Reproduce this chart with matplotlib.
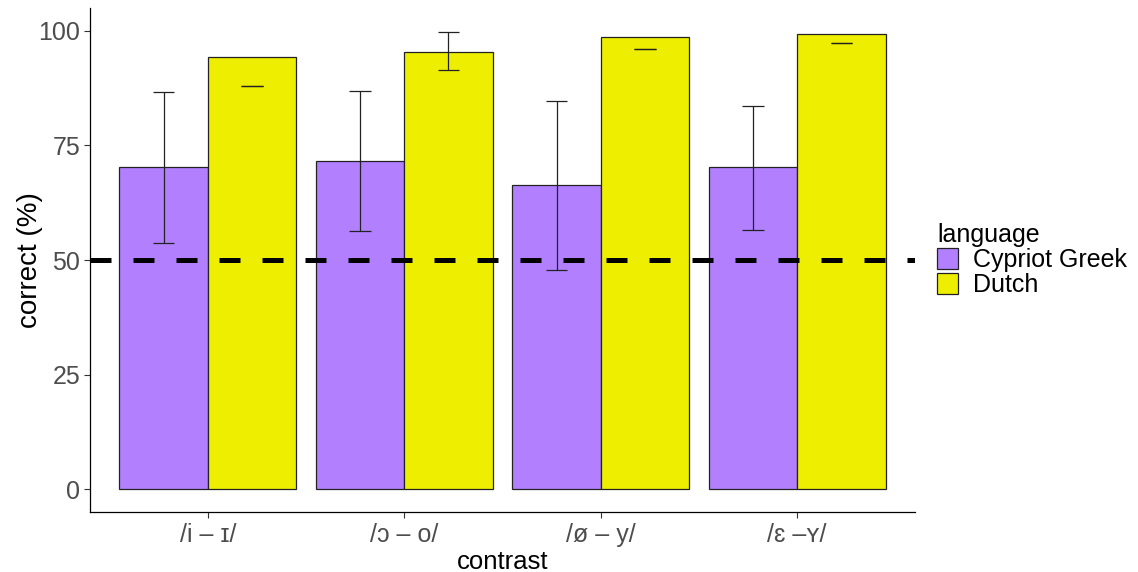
import matplotlib.pyplot as plt
import numpy as np

plt.rcParams['font.family'] = ['Liberation Sans', 'DejaVu Sans']

# values
contrasts = ["/i – ɪ/", "/ɔ – o/", "/ø – y/", "/ɛ –ʏ/"]
languages = ["Cypriot Greek", "Dutch"]
greek_mean = [70.2, 71.5, 66.3, 70.2]
greek_lo = [53.7, 56.4, 47.9, 56.6]
greek_hi = [86.6, 86.9, 84.7, 83.7]
dutch_mean = [94.2, 95.5, 98.6, 99.3]
dutch_lo = [88.0, 91.4, 96.0, 97.3]
dutch_hi = [88.0, 99.8, 96.0, 97.3]
chance = 50

colors = ["#B280FF", "#EEEE00"]

fig = plt.figure(figsize=(11.38, 5.72), dpi=100)
ax = fig.add_axes([90 / 1138, 60 / 572, 825 / 1138, 504 / 572])

x = np.arange(len(contrasts))
w = 0.45
cap = 0.055
series = [(greek_mean, greek_lo, greek_hi), (dutch_mean, dutch_lo, dutch_hi)]
for i, (mean, lo, hi) in enumerate(series):
    pos = x + (i - 0.5) * w
    ax.bar(pos, mean, width=w, color=colors[i], edgecolor="#222222",
           linewidth=0.9, label=languages[i], zorder=2)
    # error bars (some are collapsed to a single whisker in the source)
    ax.vlines(pos, lo, hi, color="#222222", linewidth=0.9, zorder=3)
    ax.hlines(lo, pos - cap, pos + cap, color="#222222", linewidth=0.9, zorder=3)
    ax.hlines(hi, pos - cap, pos + cap, color="#222222", linewidth=0.9, zorder=3)

# chance level
ax.axhline(chance, color="black", linewidth=3.6, dashes=(4.2, 4.4), zorder=4)

ax.set_xlim(-0.6, len(contrasts) - 0.4)
ax.set_ylim(-5, 105)
ax.set_yticks([0, 25, 50, 75, 100])
ax.set_xticks(x)
ax.set_xticklabels(contrasts)
ax.tick_params(axis="both", colors="#333333", labelcolor="#4D4D4D",
               labelsize=18, length=4, width=0.8)
ax.tick_params(axis="x", pad=4)
ax.tick_params(axis="y", pad=3)
ax.spines[["top", "right"]].set_visible(False)
for s in ["left", "bottom"]:
    ax.spines[s].set_linewidth(0.9)
ax.set_xlabel("contrast", fontsize=18.5, labelpad=2)
ax.set_ylabel("correct (%)", fontsize=20, labelpad=-3)

leg = ax.legend(title="language", loc="center left",
                bbox_to_anchor=((937 - 90) / 825, 0.50),
                frameon=False, fontsize=18, title_fontsize=18,
                borderaxespad=0, borderpad=0,
                handlelength=0.84, handleheight=0.92, labelspacing=0.05,
                handletextpad=0.6, alignment="left")

fig.savefig("out.png", dpi=100)
